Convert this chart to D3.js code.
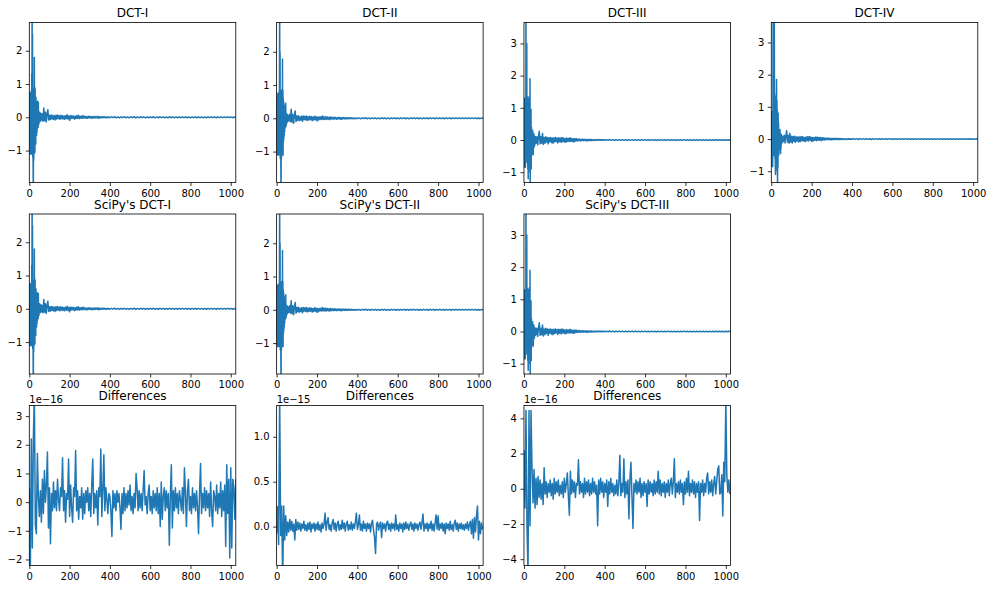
<!DOCTYPE html>
<html><head><meta charset="utf-8">
<script src="https://cdn.jsdelivr.net/npm/d3@7"></script>
<style>body{margin:0;background:#fff}svg text{font-family:"DejaVu Sans",sans-serif}</style>
</head><body><svg id="c" width="992" height="590"></svg>
<script>
// ---------- DATA ----------
const headIdx = d3.range(0, 64);          // every sample 0..63
const midIdx  = d3.range(64, 401, 4);     // every 4th sample 64..400
const tailIdx = d3.range(408, 1025, 8);   // every 8th sample 408..1024

const dct1Head = [0.3,-0.7,0.75,-1.1,0.6,-1.0,0.7,-1.1,0.5,-0.8,0.78,-1.1,1.3,-0.6,4.0,-0.9,2.5,-1.2,0.8,-1.5,-2.7,0.6,-1.3,0.85,-1.1,1.8,-0.9,0.9,-1.05,0.85,-0.6,0.5,-0.8,0.6,-0.5,0.35,-0.55,0.45,-0.45,0.3,-0.35,0.48,-0.25,0.2,-0.3,0.45,-0.15,0.12,-0.2,0.1,-0.12,0.15,-0.1,0.08,-0.12,0.1,-0.06,0.12,-0.1,0.05,-0.08,0.1,-0.05,0.06];
const dct1Mid = [0.1,-0.12,0.28,-0.1,0.15,-0.14,0.1,0.23,-0.08,0.06,-0.07,0.07,-0.05,0.06,-0.06,0.05,-0.08,0.06,-0.05,0.07,-0.04,0.05,-0.06,0.06,-0.04,0.05,-0.05,0.04,-0.06,0.05,-0.04,0.08,-0.05,0.04,-0.09,0.05,-0.04,0.05,-0.03,0.04,-0.05,0.03,-0.04,0.05,-0.03,0.06,-0.04,0.03,-0.03,0.04,-0.03,0.05,-0.02,0.03,-0.03,0.02,-0.03,0.03,-0.02,0.03,-0.02,0.02,-0.03,0.02,-0.02,0.03,-0.02,0.02,-0.02,0.03,-0.03,0.02,-0.02,0.015,-0.015,0.02,-0.01,0.015,-0.015,0.01,-0.01,0.015,-0.01,0.01,-0.01];
const dct1Tail = [0.015,-0.012,0.018,-0.015,0.012,-0.018,0.015,-0.012,0.016,-0.014,0.012,-0.016,0.015,-0.012,0.018,-0.014,0.012,-0.015,0.016,-0.012,0.014,-0.016,0.012,-0.014,0.015,-0.012,0.016,-0.015,0.012,-0.014,0.015,-0.012,0.014,-0.015,0.012,-0.014,0.016,-0.012,0.014,-0.015,0.012,-0.014,0.015,-0.012,0.014,-0.012,0.015,-0.014,0.012,-0.015,0.014,-0.012,0.015,-0.014,0.012,-0.012,0.014,-0.015,0.012,-0.014,0.012,-0.012,0.014,-0.012,0.012,-0.014,0.012,-0.012,0.014,-0.012,0.012,-0.012,0.014,-0.012,0.012,-0.012,0.01,-0.012];

const dct2Head = [0.5,-0.8,0.75,-1.1,0.6,-0.9,0.7,-1.1,0.4,-1.0,0.75,-0.6,0.8,-1.1,0.9,4.2,-0.9,2.0,-1.2,0.8,-0.7,-1.5,-2.8,0.7,-1.2,0.85,-0.9,0.8,-1.1,1.78,-0.8,0.85,-1.1,0.6,-0.7,0.5,-0.6,0.4,-0.5,0.35,-0.4,0.3,-0.3,0.25,-0.2,0.45,-0.25,0.15,-0.2,0.1,-0.15,0.12,-0.1,0.08,-0.1,0.1,-0.06,0.08,-0.08,0.05,-0.07,0.08,-0.05,0.06];
const dct2Mid = [0.12,-0.1,0.27,-0.12,0.12,-0.15,0.08,0.22,-0.1,0.07,-0.06,0.08,-0.07,0.05,-0.05,0.06,-0.09,0.07,-0.04,0.06,-0.05,0.07,-0.06,0.05,-0.05,0.06,-0.04,0.05,-0.07,0.04,-0.05,0.06,-0.04,0.05,-0.08,0.04,-0.05,0.04,-0.03,0.05,-0.04,0.07,-0.03,0.04,-0.04,0.05,-0.03,0.04,-0.03,0.03,-0.04,0.04,-0.02,0.03,-0.03,0.03,-0.02,0.03,-0.03,0.02,-0.02,0.03,-0.02,0.02,-0.03,0.02,-0.02,0.02,-0.02,0.02,-0.02,0.015,-0.015,0.02,-0.015,0.015,-0.01,0.015,-0.01,0.01,-0.015,0.01,-0.01,0.01,-0.01];
const dct2Tail = [0.012,-0.016,0.015,-0.012,0.018,-0.014,0.012,-0.016,0.015,-0.012,0.014,-0.016,0.012,-0.015,0.016,-0.012,0.014,-0.015,0.012,-0.016,0.014,-0.012,0.015,-0.014,0.012,-0.016,0.014,-0.012,0.015,-0.014,0.012,-0.015,0.014,-0.012,0.015,-0.012,0.014,-0.014,0.012,-0.015,0.014,-0.012,0.012,-0.014,0.015,-0.012,0.012,-0.014,0.012,-0.012,0.014,-0.012,0.012,-0.014,0.012,-0.012,0.012,-0.014,0.012,-0.012,0.014,-0.012,0.012,-0.012,0.012,-0.012,0.014,-0.012,0.012,-0.012,0.012,-0.01,0.012,-0.012,0.01,-0.012,0.012,-0.01];

const dct3Head = [0.8,-0.3,1.3,-0.85,0.5,-0.6,0.9,-0.85,1.2,-0.4,4.5,-0.5,1.3,0.2,3.0,-0.7,1.35,-0.3,1.0,-0.9,0.6,-1.2,1.3,-0.5,0.9,-0.8,1.35,-0.6,0.7,-1.0,1.9,-1.6,0.8,-0.7,0.5,0.95,-0.9,0.4,-0.5,0.3,-0.4,0.2,-0.3,0.3,-0.2,0.15,-0.45,0.1,-0.25,0.2,-0.15,0.1,-0.2,0.12,-0.1,0.08,-0.12,0.1,-0.08,0.06,-0.1,0.08,-0.06,0.05];
const dct3Mid = [0.1,-0.15,0.12,0.27,-0.12,0.1,-0.1,0.2,-0.14,0.08,-0.1,0.1,-0.06,0.08,-0.12,0.07,-0.05,0.08,-0.08,0.06,-0.1,0.07,-0.06,0.08,-0.05,0.06,-0.09,0.07,-0.05,0.06,-0.07,0.08,-0.05,0.06,-0.06,0.05,-0.07,0.06,-0.04,0.05,-0.05,0.07,-0.04,0.05,-0.05,0.04,-0.06,0.05,-0.03,0.04,-0.03,0.03,-0.02,0.03,-0.03,0.02,-0.02,0.03,-0.02,0.02,-0.02,0.02,-0.03,0.02,-0.02,0.015,-0.02,0.02,-0.015,0.015,-0.015,0.01,-0.015,0.015,-0.01,0.01,-0.01,0.015,-0.01,0.01,-0.01,0.01,-0.008,0.01,-0.008];
const dct3Tail = [0.012,-0.012,0.015,-0.01,0.012,-0.014,0.01,-0.012,0.014,-0.01,0.012,-0.012,0.01,-0.014,0.012,-0.01,0.012,-0.012,0.014,-0.01,0.01,-0.012,0.012,-0.01,0.012,-0.01,0.01,-0.012,0.012,-0.01,0.01,-0.012,0.01,-0.01,0.012,-0.01,0.01,-0.01,0.012,-0.01,0.01,-0.01,0.01,-0.012,0.01,-0.01,0.01,-0.01,0.012,-0.01,0.01,-0.01,0.01,-0.01,0.01,-0.01,0.01,-0.01,0.01,-0.01,0.01,-0.01,0.01,-0.01,0.01,-0.01,0.01,-0.01,0.008,-0.01,0.01,-0.008,0.01,-0.01,0.008,-0.01,0.008,-0.008];

const dct4Head = [0.8,-0.4,0.85,-0.85,0.3,-0.6,0.7,-0.85,0.9,4.0,-0.3,2.5,-0.5,1.4,-0.2,3.9,0.3,1.4,-0.6,1.2,-0.9,-1.1,1.3,-0.7,1.0,-0.5,1.85,-0.8,1.2,-1.0,0.9,-1.5,0.5,-0.9,0.8,-0.4,0.5,-0.5,0.3,-0.35,0.25,-0.3,0.2,0.3,-0.2,0.15,-0.45,0.12,-0.3,0.15,-0.15,0.1,-0.12,0.1,-0.1,0.08,-0.1,0.07,-0.08,0.06,-0.07,0.05,-0.05,0.04];
const dct4Mid = [0.12,-0.12,0.1,0.26,-0.1,0.12,-0.13,0.18,-0.1,0.09,-0.12,0.08,-0.07,0.09,-0.1,0.06,-0.06,0.07,-0.09,0.06,-0.08,0.08,-0.05,0.07,-0.06,0.05,-0.08,0.06,-0.05,0.07,-0.06,0.08,-0.04,0.06,-0.07,0.05,-0.06,0.05,-0.04,0.06,-0.05,0.06,-0.04,0.05,-0.04,0.05,-0.05,0.04,-0.03,0.04,-0.03,0.03,-0.02,0.03,-0.02,0.03,-0.02,0.02,-0.03,0.02,-0.02,0.02,-0.02,0.02,-0.015,0.02,-0.015,0.015,-0.02,0.015,-0.01,0.015,-0.01,0.01,-0.015,0.01,-0.01,0.01,-0.01,0.01,-0.008,0.01,-0.008,0.008,-0.008];
const dct4Tail = [0.014,-0.012,0.012,-0.015,0.014,-0.01,0.012,-0.012,0.015,-0.012,0.01,-0.014,0.012,-0.01,0.012,-0.012,0.01,-0.012,0.014,-0.01,0.01,-0.012,0.012,-0.01,0.01,-0.012,0.01,-0.01,0.012,-0.01,0.01,-0.01,0.012,-0.01,0.01,-0.012,0.01,-0.01,0.01,-0.01,0.012,-0.01,0.01,-0.01,0.01,-0.012,0.01,-0.01,0.01,-0.01,0.01,-0.01,0.012,-0.01,0.01,-0.01,0.01,-0.01,0.01,-0.01,0.01,-0.01,0.01,-0.01,0.008,-0.01,0.01,-0.01,0.008,-0.01,0.01,-0.008,0.01,-0.008,0.008,-0.01,0.008,-0.008];

// Differences: one value every 5 samples (units: 1e-16, 1e-15, 1e-16)
const diffStep = 5;
const diff1 = [0.5,-2.6,2.2,-1.6,2.2,3.8,-0.8,-1.1,1.7,0.2,-0.5,0.4,-0.7,0.8,-0.4,1.1,0.0,0.6,1.75,-0.9,0.5,-1.45,0.3,-0.3,0.7,-0.2,0.4,-0.3,0.8,0.1,-0.3,0.5,0.2,1.55,-0.3,0.4,-0.7,0.3,0.1,1.5,-0.5,0.6,-0.2,-0.7,0.5,0.2,1.8,-0.3,0.4,-0.6,0.2,-0.2,0.5,-0.6,0.3,-0.4,0.4,0.0,0.5,-0.3,0.3,-0.5,0.6,1.5,-0.4,0.3,-0.2,0.4,-0.8,0.5,0.2,1.85,-0.5,0.4,1.65,-0.3,0.5,0.1,-0.4,0.3,0.2,-0.3,-1.2,0.4,-0.2,0.3,-0.3,0.4,0.0,0.3,-0.2,-0.95,0.3,-0.4,0.5,-0.3,0.3,-0.2,0.4,-0.1,0.6,-0.3,0.2,-0.4,0.3,-0.2,1.0,0.5,-0.3,0.4,-0.2,0.3,-0.3,0.4,1.1,-0.1,0.2,-0.4,0.3,0.6,-0.3,0.2,-0.4,0.4,-0.2,0.3,-0.3,0.5,-0.4,0.3,-0.85,0.7,-0.6,0.2,0.5,-0.3,0.4,-0.2,0.3,-1.5,0.2,1.3,-0.9,0.4,-0.3,0.5,-0.2,0.3,-0.4,0.4,0.1,-0.3,0.5,-0.4,1.2,0.3,-0.85,0.4,0.8,-0.3,0.2,-0.4,0.5,-0.2,0.3,-0.3,0.4,-0.2,-1.1,0.3,1.35,-0.4,0.3,-0.2,0.5,-0.3,0.4,-0.2,0.3,-0.5,0.7,-0.3,-0.85,0.4,0.2,-0.3,0.6,-0.4,0.3,-0.2,0.7,-0.5,0.4,-0.3,0.6,-1.55,1.3,-0.4,0.8,-1.95,1.2,-1.6,0.8,0.5,-0.6,0.8];
const diff2 = [-0.08,0.22,-0.2,1.5,-0.1,0.23,-0.6,0.23,-0.15,0.12,-0.1,0.05,-0.06,0.08,-0.04,0.06,-0.05,0.03,-0.15,0.08,-0.04,0.05,-0.03,0.04,-0.05,0.03,-0.02,0.06,-0.04,0.02,-0.05,0.04,-0.03,0.05,-0.06,0.03,-0.02,0.04,-0.05,0.03,-0.03,0.05,-0.04,0.02,-0.06,0.04,-0.02,0.03,0.15,-0.04,0.05,0.10,-0.03,0.02,-0.05,0.04,0.08,-0.03,0.04,-0.05,0.03,0.06,-0.04,0.02,-0.03,0.07,-0.02,0.04,-0.05,0.03,0.06,-0.04,0.02,-0.03,0.05,-0.04,0.03,-0.02,0.05,0.15,-0.03,0.02,0.13,-0.04,0.03,-0.05,0.06,-0.02,0.03,-0.05,0.04,-0.02,0.03,-0.06,0.04,0.07,-0.04,-0.12,-0.30,0.03,0.05,-0.04,0.02,0.05,-0.12,0.04,-0.02,0.03,-0.05,0.04,0.06,-0.03,0.03,-0.05,0.04,-0.02,0.03,-0.04,0.13,-0.03,0.02,-0.05,0.04,-0.02,0.03,-0.06,0.04,-0.03,0.05,-0.02,0.03,-0.04,0.02,0.05,-0.03,0.03,-0.05,0.04,-0.02,0.03,-0.04,0.02,0.05,-0.03,0.04,0.14,-0.05,0.03,-0.02,0.04,-0.05,0.03,-0.02,0.06,-0.04,0.03,-0.05,0.04,0.13,-0.03,0.12,-0.04,0.03,-0.02,0.04,-0.05,0.03,-0.08,0.04,-0.02,0.03,-0.04,0.06,-0.03,0.02,-0.05,0.04,0.07,-0.03,0.04,-0.05,0.03,-0.02,0.04,-0.03,0.02,-0.04,0.03,-0.02,0.05,-0.04,0.02,0.06,-0.08,0.08,-0.13,0.10,-0.06,0.12,0.23,-0.15,0.06,-0.08,0.04,-0.03];
const diff3 = [2.2,-1.1,4.45,-2.2,-4.8,4.45,-2.1,4.45,1.1,-0.8,1.1,-1.1,0.6,-0.9,0.7,-0.5,0.5,-0.6,0.3,-0.9,1.2,-0.3,0.4,-0.5,0.3,-0.2,0.5,-0.4,0.3,-0.6,0.6,-0.3,0.4,-0.2,0.5,-0.4,0.2,-0.3,0.4,-0.5,0.6,-0.2,0.3,0.9,-0.4,-1.5,1.0,-0.3,0.5,-0.2,0.4,-0.5,0.3,0.2,1.65,-0.3,0.4,-0.2,0.3,-0.5,0.6,-0.3,0.4,-0.2,0.5,-0.4,0.3,-0.3,0.6,-0.2,0.4,-0.3,0.2,-2.1,0.5,-0.3,0.6,-0.2,0.4,-0.5,0.3,-0.2,0.5,-1.0,0.4,-0.3,0.6,-0.2,0.3,-0.4,0.2,-0.3,0.5,-0.4,0.3,1.9,-0.4,0.3,-0.2,1.7,-0.5,0.4,-0.3,0.5,-1.7,0.6,1.5,-0.4,-2.25,0.3,-0.2,0.5,-0.3,0.4,-0.2,0.6,-0.5,0.3,-0.4,0.4,-0.2,0.3,-1.0,0.5,-0.3,0.4,-0.2,0.3,-0.4,0.5,-0.3,0.4,-0.2,1.0,-0.3,0.5,-0.4,0.3,-0.2,0.4,-0.5,0.3,-0.2,0.5,-0.4,0.3,0.6,-0.3,0.4,1.7,-0.5,0.3,-0.2,0.4,-0.3,0.5,-0.2,0.3,-0.9,0.4,-0.3,0.6,-0.2,1.0,-0.4,0.3,-0.2,0.5,-0.3,0.4,-0.5,0.3,-0.2,0.4,-1.8,0.3,-0.2,0.5,-0.4,0.3,-0.2,0.6,0.9,-0.3,0.4,-0.2,0.5,-0.4,0.3,0.7,-0.3,0.4,1.1,1.3,-0.3,-0.2,0.8,-1.55,1.5,0.4,5.0,0.8,-0.2,0.5,-0.3];

const titles = ["DCT-I","DCT-II","DCT-III","DCT-IV","SciPy's DCT-I","SciPy's DCT-II","SciPy's DCT-III","Differences","Differences","Differences"];
const xTicks = [0,200,400,600,800,1000];
const xMax = [1025,1023,1023,1023];
const yLims = [[-1.96,2.85],[-1.93,2.88],[-1.32,3.65],[-1.35,3.62]];
const yTicksMain = [[-1,0,1,2],[-1,0,1,2],[-1,0,1,2,3],[-1,0,1,2,3]];
const diffYLims = [[-2.21,3.37],[-0.433,1.348],[-4.36,4.73]];
const diffYTicks = [[-2,-1,0,1,2,3],[0,0.5,1.0],[-4,-2,0,2,4]];
const diffOffsets = ["1e\u221216","1e\u221215","1e\u221216"];

// ---------- BUILD ----------
function zipSeries(idxs, vals){ const out=[]; idxs.forEach((ix,j)=>{ ix.forEach((x,i)=>{ if(i<vals[j].length) out.push([x, vals[j][i]]); }); }); return out; }
const mainSeries = [
  zipSeries([headIdx,midIdx,tailIdx],[dct1Head,dct1Mid,dct1Tail]),
  zipSeries([headIdx,midIdx,tailIdx],[dct2Head,dct2Mid,dct2Tail]),
  zipSeries([headIdx,midIdx,tailIdx],[dct3Head,dct3Mid,dct3Tail]),
  zipSeries([headIdx,midIdx,tailIdx],[dct4Head,dct4Mid,dct4Tail])
];
const diffSeries = [diff1,diff2,diff3].map(a => a.map((v,k)=>[k*diffStep, v]));

const svg = d3.select("#c");
const colLeft = 29.3, colStep = 247.33, W = 206.5, H = 160;
const rowTop = [22.5, 214, 405.5];
const BLUE = "#1f77b4";
const FONT = "DejaVu Sans";

const panels = [];
for (let c=0;c<4;c++) panels.push({r:0,c,title:titles[c],data:mainSeries[c],xmax:xMax[c],ylim:yLims[c],yt:yTicksMain[c],fmt:d3.format("d")});
for (let c=0;c<3;c++) panels.push({r:1,c,title:titles[4+c],data:mainSeries[c],xmax:xMax[c],ylim:yLims[c],yt:yTicksMain[c],fmt:d3.format("d")});
for (let c=0;c<3;c++) panels.push({r:2,c,title:titles[7+c],data:diffSeries[c],xmax:xMax[c],ylim:diffYLims[c],yt:diffYTicks[c],fmt:c===1?d3.format(".1f"):d3.format("d"),offset:diffOffsets[c]});

panels.forEach((p,i)=>{
  const left = colLeft + p.c*colStep, top = rowTop[p.r];
  const g = svg.append("g").attr("transform",`translate(${left},${top})`);
  const x = d3.scaleLinear().domain([0,p.xmax]).range([0,W]);
  const y = d3.scaleLinear().domain(p.ylim).range([H,0]);
  const cid = "clip"+i;
  g.append("clipPath").attr("id",cid).append("rect").attr("width",W).attr("height",H);
  g.append("path").datum(p.data).attr("clip-path",`url(#${cid})`)
    .attr("fill","none").attr("stroke",BLUE).attr("stroke-width",1.5).attr("stroke-linejoin","round")
    .attr("d", d3.line().x(d=>x(d[0])).y(d=>y(d[1])));
  const gx = g.append("g").attr("transform",`translate(0,${H})`)
    .call(d3.axisBottom(x).tickValues(xTicks).tickFormat(d3.format("d")).tickSize(3.5).tickPadding(3.5));
  const gy = g.append("g")
    .call(d3.axisLeft(y).tickValues(p.yt).tickFormat(p.fmt).tickSize(3.5).tickPadding(3.5));
  [gx,gy].forEach(a=>{
    a.select(".domain").remove();
    a.attr("font-family",FONT).attr("font-size",10);
    a.selectAll("line").attr("stroke","#000").attr("stroke-width",0.8);
    a.selectAll("text").attr("fill","#000");
  });
  g.append("rect").attr("width",W).attr("height",H).attr("fill","none").attr("stroke","#000").attr("stroke-width",0.8);
  g.append("text").attr("x",W/2).attr("y",-5.5).attr("text-anchor","middle")
    .attr("font-family",FONT).attr("font-size",12).attr("fill","#000").text(p.title);
  if (p.offset) g.append("text").attr("x",0).attr("y",-2.5).attr("font-family",FONT).attr("font-size",10).attr("fill","#000").text(p.offset);
});
</script></body></html>
